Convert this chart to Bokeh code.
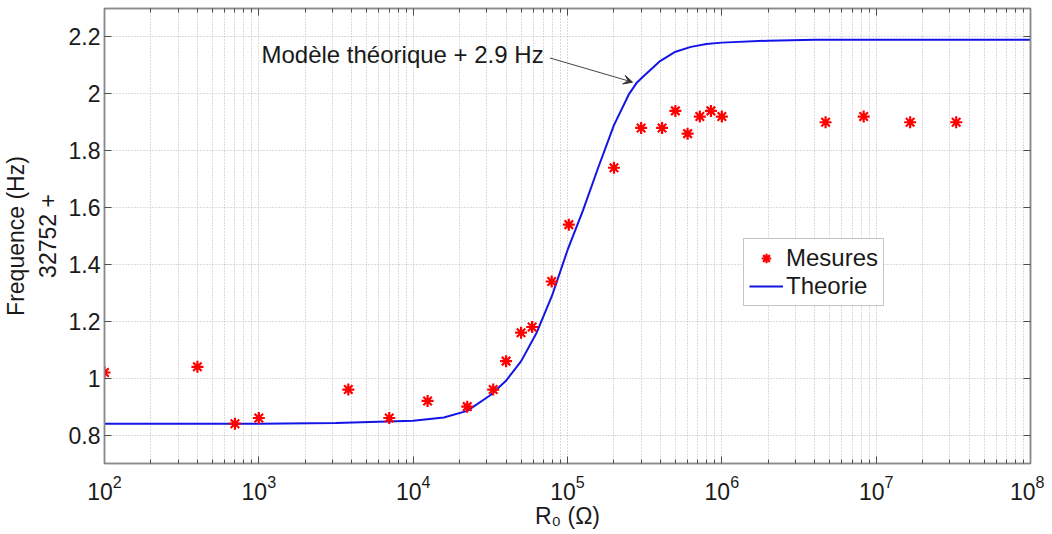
from bokeh.plotting import figure
from bokeh.models import (LogAxis, LinearAxis, Label, Arrow, VeeHead, Legend,
                          LegendItem, FixedTicker, Range1d)
from bokeh.embed import file_html
from bokeh.resources import INLINE

# ---- data ----
meas_r = [1e2, 4e2, 7e2, 1e3, 3.8e3, 7.0e3, 1.24e4, 2.24e4, 3.3e4, 4.0e4, 5.0e4,
          5.9e4, 7.9e4, 1.02e5, 2.0e5, 3.0e5, 4.1e5, 5.0e5, 6.0e5, 7.2e5, 8.5e5,
          1.0e6, 4.7e6, 8.3e6, 1.66e7, 3.3e7]
meas_f = [1.02, 1.04, 0.84, 0.86, 0.96, 0.86, 0.92, 0.90, 0.96, 1.06, 1.16,
          1.18, 1.34, 1.54, 1.74, 1.88, 1.88, 1.94, 1.86, 1.92, 1.94,
          1.92, 1.90, 1.92, 1.90, 1.90]

theo_r = [1e2, 1e3, 3.16e3, 1e4, 1.58e4, 2.24e4, 3.16e4, 3.98e4, 5.01e4, 6.31e4,
          7.94e4, 1e5, 1.26e5, 1.58e5, 2.0e5, 2.51e5, 2.82e5, 3.16e5, 3.98e5,
          5.01e5, 6.31e5, 7.94e5, 1e6, 2e6, 4e6, 1e8]
theo_f = [0.84, 0.84, 0.842, 0.85, 0.862, 0.885, 0.94, 0.99, 1.06, 1.16,
          1.29, 1.45, 1.59, 1.74, 1.89, 2.00, 2.04, 2.065, 2.115,
          2.148, 2.165, 2.175, 2.18, 2.187, 2.19, 2.19]

x_major = [1e2, 1e3, 1e4, 1e5, 1e6, 1e7, 1e8]
y_major = [0.8, 1.0, 1.2, 1.4, 1.6, 1.8, 2.0, 2.2]

FONT = "Liberation Sans"
FS = "23px"
FS_BIG = "24px"
TXT = "#1a1a1a"
AX = "#8a8a8a"
TICK = "#4d4d4d"
GRID = "#b8b8b8"

x_minor = [k * d for d in x_major[:-1] for k in range(2, 10)]

p = figure(frame_width=926, frame_height=455, x_axis_type="log",
           x_range=Range1d(1e2, 1e8), y_range=Range1d(0.7, 2.3),
           output_backend="svg", toolbar_location=None,
           min_border_left=104, min_border_right=14, min_border_top=8,
           min_border_bottom=63)
p.background_fill_color = "white"
p.border_fill_color = "white"
p.outline_line_color = AX
p.outline_line_width = 1.5

xt = FixedTicker(ticks=x_major, minor_ticks=x_minor)
yt = FixedTicker(ticks=y_major, minor_ticks=[])

def style_axis(ax, show_labels=True):
    ax.axis_line_color = AX
    ax.axis_line_width = 1.5
    ax.major_tick_in = 7
    ax.major_tick_out = 0
    ax.minor_tick_in = 4
    ax.minor_tick_out = 0
    ax.major_tick_line_color = TICK
    ax.minor_tick_line_color = TICK
    ax.major_label_text_font = FONT
    ax.major_label_text_font_size = FS if show_labels else "1px"
    ax.major_label_text_color = TXT if show_labels else None
    ax.axis_label_text_font = FONT
    ax.axis_label_text_font_size = FS
    ax.axis_label_text_font_style = "normal"
    ax.axis_label_text_color = TXT

p.xaxis.ticker = xt
p.yaxis.ticker = yt
style_axis(p.xaxis[0])
style_axis(p.yaxis[0])
p.xaxis.major_label_standoff = 11
p.yaxis.major_label_standoff = 4
p.xaxis.axis_label = "R₀ (Ω)"
p.xaxis.axis_label_standoff = 0
p.yaxis.axis_label = "Frequence (Hz)\n32752 +"
p.yaxis.axis_label_standoff = 5

top = LogAxis(ticker=xt)
style_axis(top, False)
top.major_label_standoff = 0
p.add_layout(top, "above")
right = LinearAxis(ticker=yt)
style_axis(right, False)
right.major_label_standoff = 0
p.add_layout(right, "right")

p.xgrid.ticker = xt
p.ygrid.ticker = yt
p.xgrid.grid_line_color = GRID
p.xgrid.grid_line_dash = "1 2"
p.xgrid.minor_grid_line_color = GRID
p.xgrid.minor_grid_line_dash = "1 2"
p.ygrid.grid_line_color = GRID
p.ygrid.grid_line_dash = "1 2"

line = p.line(theo_r, theo_f, line_color="#1414e6", line_width=2)
pts = p.scatter(meas_r, meas_f, marker="asterisk", size=12,
                line_color="#ff0000", line_width=2.2)

legend = Legend(items=[LegendItem(label="Mesures", renderers=[pts]),
                       LegendItem(label="Theorie", renderers=[line])],
                location=(639, 157))
legend.label_text_font = FONT
legend.label_text_font_size = FS_BIG
legend.label_text_color = TXT
legend.border_line_color = AX
legend.border_line_width = 1
legend.glyph_width = 34
legend.label_standoff = 3
legend.spacing = 0
legend.padding = 5
legend.margin = 0
legend.label_height = 24
legend.glyph_height = 24
p.add_layout(legend)

p.add_layout(Label(x=1040, y=2.137, text="Modèle théorique + 2.9 Hz",
                   text_baseline="middle", text_font=FONT,
                   text_font_size=FS_BIG, text_color=TXT))
p.add_layout(Arrow(end=VeeHead(size=9, fill_color="#333333",
                               line_color="#333333", line_width=1),
                   x_start=7.7e4, y_start=2.126, x_end=2.64e5, y_end=2.041,
                   line_color="#444444", line_width=1))

open("out.html", "w").write(file_html(p, INLINE))
